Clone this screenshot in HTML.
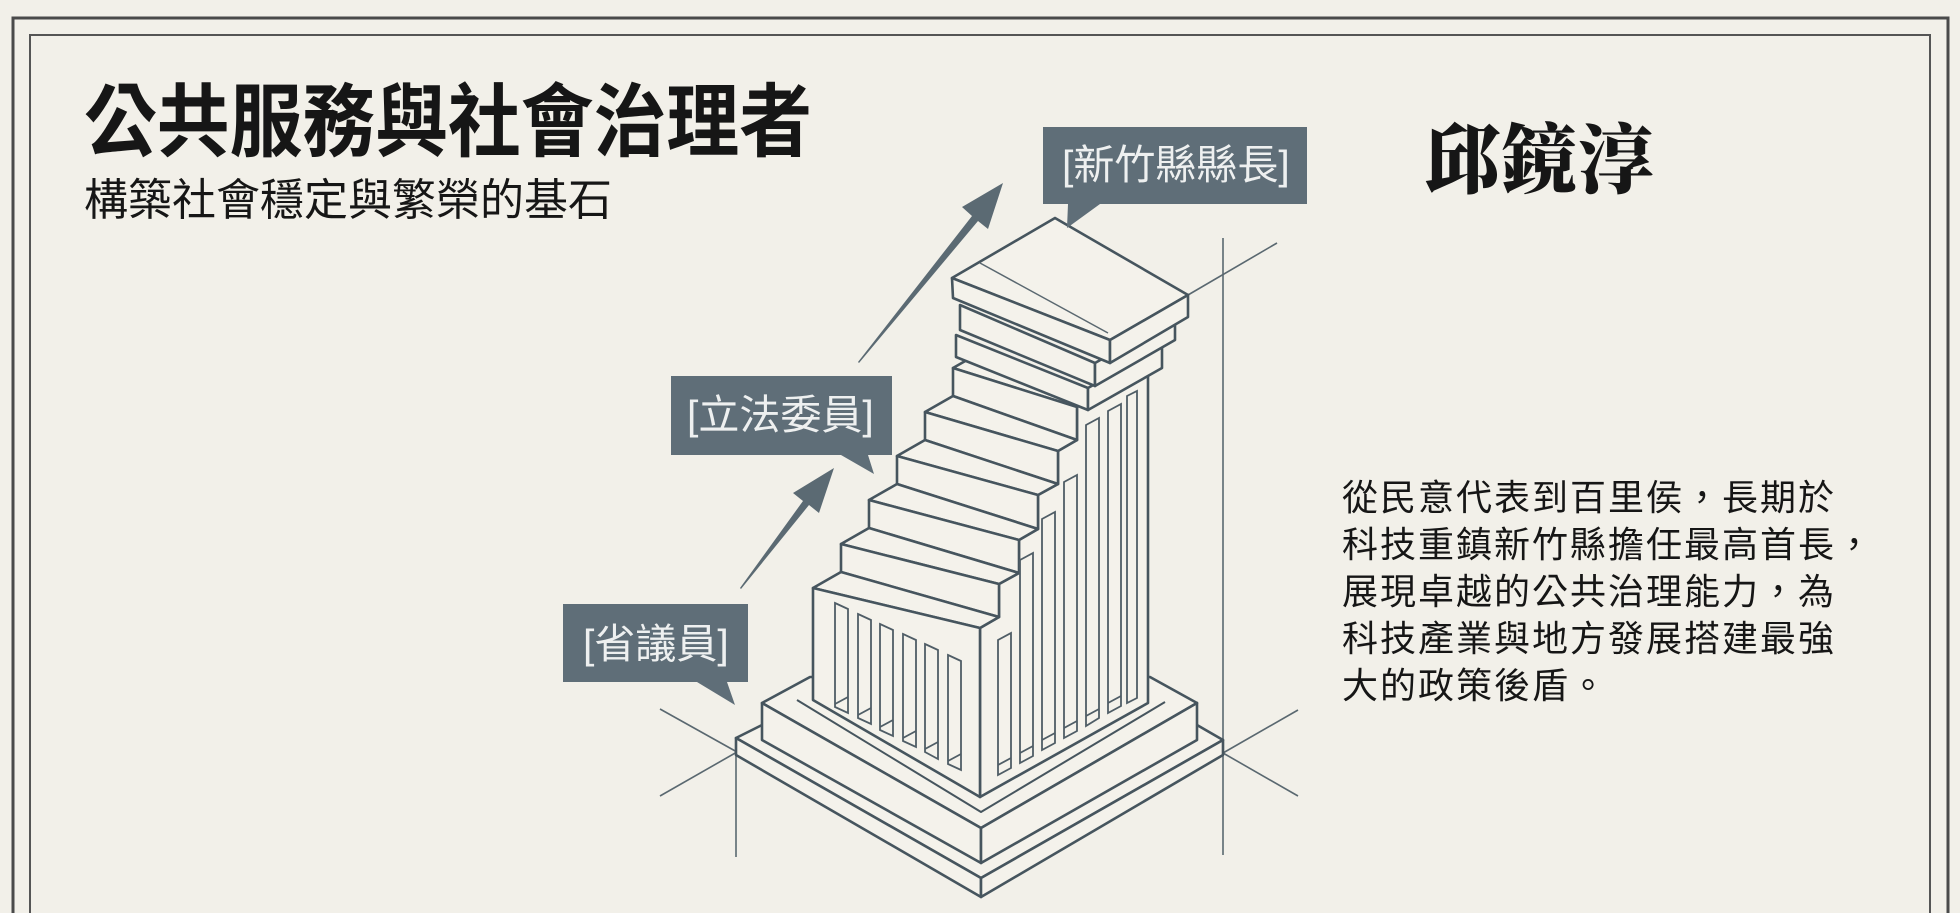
<!DOCTYPE html>
<html><head><meta charset="utf-8"><style>
html,body{margin:0;padding:0;}
body{width:1960px;height:913px;background:#f2f0e9;position:relative;overflow:hidden;font-family:"Liberation Sans","Noto Sans CJK TC",sans-serif;}
.t{position:absolute;white-space:nowrap;line-height:1;color:#161616;}
</style></head><body>
<svg width="1960" height="913" style="position:absolute;left:0;top:0" xmlns="http://www.w3.org/2000/svg">
<rect x="13" y="18" width="1935" height="920" fill="none" stroke="#4a4a4a" stroke-width="3"/>
<rect x="30" y="35" width="1900" height="900" fill="none" stroke="#555" stroke-width="2"/>

<g stroke="#5a6870" stroke-width="1.6" fill="none">
<line x1="736" y1="755" x2="736" y2="857"/>
<line x1="1223" y1="238" x2="1223" y2="855"/>
<line x1="660" y1="709" x2="737" y2="752"/>
<line x1="660" y1="796" x2="737" y2="752"/>
<line x1="1223" y1="753" x2="1298" y2="710"/>
<line x1="1223" y1="753" x2="1298" y2="796"/>
<line x1="1188" y1="295" x2="1277" y2="243"/>
</g>

<g stroke="#46555e" stroke-width="2.6" fill="#f4f2eb" stroke-linejoin="round">
<polygon points="762,725 736,738 981,878 1223,740 1197,725"/>
<polygon points="736,738 981,878 981,897 736,755"/>
<polygon points="981,878 1223,740 1223,755 981,897"/>
<polygon points="810,677 762,703 981,828 1197,703 1150,677"/>
<polygon points="762,703 981,828 981,863 762,740"/>
<polygon points="981,828 1197,703 1197,740 981,863"/>
<polyline points="797,700 981,812 1165,702" fill="none" stroke-width="2"/>
<polygon points="980,797 980,628 999,617 999,584 1019,573 1019,540 1038,529 1038,495 1058,484 1058,451 1077,440 1077,407 1090,400 1148,368 1148,703"/>
<polygon points="953,368 981,352 1096,396 1077,407"/>
<polygon points="953,368 1077,407 1077,440 953,396"/>
<polygon points="925,412 953,396 1077,440 1058,451"/>
<polygon points="925,412 1058,451 1058,484 925,440"/>
<polygon points="897,456 925,440 1058,484 1038,495"/>
<polygon points="897,456 1038,495 1038,529 897,484"/>
<polygon points="869,500 897,484 1038,529 1019,540"/>
<polygon points="869,500 1019,540 1019,573 869,528"/>
<polygon points="841,544 869,528 1019,573 999,584"/>
<polygon points="841,544 999,584 999,617 841,572"/>
<polygon points="813,588 841,572 999,617 980,628"/>
<polygon points="813,588 980,628 980,797 813,700"/>
<polygon points="956,335 1088,388 1088,410 956,357"/>
<polygon points="1088,388 1162,346 1162,368 1088,410"/>
<polygon points="960,305 1095,363 1095,386 960,330"/>
<polygon points="1095,363 1175,318 1175,340 1095,386"/>
<polygon points="952,278 1055,218 1188,295 1110,340"/>
<polygon points="952,278 1110,340 1110,363 953,298"/>
<polygon points="1110,340 1188,295 1188,317 1110,363"/>
</g>
<line x1="980" y1="263" x2="1108" y2="333" stroke="#5a6870" stroke-width="1.5"/>

<g stroke="#4f5d66" stroke-width="1.8" fill="none">
<polygon points="835,603 848,609 848,713 835,707"/><line x1="835" y1="704" x2="848" y2="697"/>
<polygon points="858,614 871,620 871,724 858,718"/><line x1="858" y1="715" x2="871" y2="708"/>
<polygon points="880,624 893,630 893,736 880,730"/><line x1="880" y1="727" x2="893" y2="720"/>
<polygon points="903,634 916,640 916,747 903,741"/><line x1="903" y1="738" x2="916" y2="731"/>
<polygon points="925,644 938,650 938,759 925,752"/><line x1="925" y1="749" x2="938" y2="742"/>
<polygon points="948,655 961,661 961,770 948,764"/><line x1="948" y1="761" x2="961" y2="754"/>
<polygon points="998,640 1011,633 1011,768 998,775"/><line x1="998" y1="765" x2="1011" y2="758"/>
<polygon points="1020,560 1033,553 1033,756 1020,763"/><line x1="1020" y1="753" x2="1033" y2="746"/>
<polygon points="1042,519 1055,512 1055,743 1042,750"/><line x1="1042" y1="740" x2="1055" y2="733"/>
<polygon points="1064,482 1077,475 1077,731 1064,738"/><line x1="1064" y1="728" x2="1077" y2="721"/>
<polygon points="1086,425 1099,418 1099,718 1086,726"/><line x1="1086" y1="716" x2="1099" y2="709"/>
<polygon points="1108,411 1121,404 1121,706 1108,713"/><line x1="1108" y1="703" x2="1121" y2="696"/>
<polygon points="1127,396 1137,391 1137,698 1127,703"/>
</g>

<polygon fill="#5b6a73" points="740,588 803,501 793,493 834,468 819,513 809,505 741,589"/>
<polygon fill="#5b6a73" points="858,362 972,216 962,207 1003,183 988,229 978,221 859,363"/>

<polygon fill="#5f6e78" points="1043,127 1307,127 1307,204 1100,204 1067,228 1068,204 1043,204"/>
<polygon fill="#5f6e78" points="671,376 892,376 892,455 868,455 874,474 841,455 671,455"/>
<polygon fill="#5f6e78" points="563,604 748,604 748,682 727,682 735,705 697,682 563,682"/>
</svg>

<div class="t" style="left:1062px;top:145px;font-size:41px;color:#eef0f0;">[新竹縣縣長]</div>
<div class="t" style="left:687px;top:395px;font-size:41px;color:#eef0f0;">[立法委員]</div>
<div class="t" style="left:583px;top:624px;font-size:41px;color:#eef0f0;">[省議員]</div>

<div class="t" style="left:84px;top:83px;font-size:80px;font-weight:700;transform:scaleX(0.91);transform-origin:0 0;">公共服務與社會治理者</div>
<div class="t" style="left:84px;top:179px;font-size:44px;">構築社會穩定與繁榮的基石</div>
<div class="t" style="left:1424px;top:124px;font-size:76px;font-weight:900;letter-spacing:1px;font-family:'Liberation Serif','Noto Serif CJK TC','Noto Serif CJK SC',serif;">邱鏡淳</div>
<div class="t" style="left:1342px;top:474px;font-size:36px;line-height:47px;letter-spacing:2px;">從民意代表到百里侯，長期於<br>科技重鎮新竹縣擔任最高首長，<br>展現卓越的公共治理能力，為<br>科技產業與地方發展搭建最強<br>大的政策後盾。</div>
</body></html>
